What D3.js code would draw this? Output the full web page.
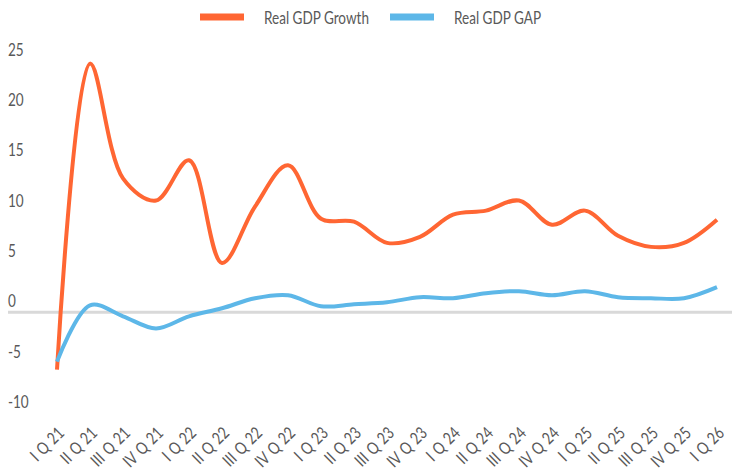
<!DOCTYPE html>
<html>
<head>
<meta charset="utf-8">
<script src="https://cdn.jsdelivr.net/npm/d3@7"></script>
<style>
  html, body { margin: 0; padding: 0; background: #fff; }
  svg { display: block; }
  text { font-family: Lato, "Open Sans", sans-serif; fill: #595959; }
</style>
</head>
<body>
<svg id="chart" width="732" height="470"></svg>
<script>
// Quarter labels
const quarters = [
  "I Q 21", "II Q 21", "III Q 21", "IV Q 21",
  "I Q 22", "II Q 22", "III Q 22", "IV Q 22",
  "I Q 23", "II Q 23", "III Q 23", "IV Q 23",
  "I Q 24", "II Q 24", "III Q 24", "IV Q 24",
  "I Q 25", "II Q 25", "III Q 25", "IV Q 25",
  "I Q 26"
];

// Real GDP growth, %
const gdpGrowth = [
  -5.7, 24.7, 13.3, 11.1, 15.1, 4.9, 10.5, 14.6,
  9.3, 9.0, 6.9, 7.5, 9.7, 10.1, 11.1, 8.7,
  10.1, 7.6, 6.5, 6.9, 9.2
];

// Real GDP gap, %
const gdpGap = [
  -4.9, 0.7, -0.4, -1.6, -0.4, 0.4, 1.4, 1.7,
  0.6, 0.8, 1.0, 1.5, 1.4, 1.9, 2.1, 1.7,
  2.1, 1.5, 1.4, 1.4, 2.5
];

// Y axis ticks
const yTicks = [25, 20, 15, 10, 5, 0, -5, -10];

const seriesNames = ["Real GDP Growth", "Real GDP GAP"];
const seriesColors = ["#FF6633", "#5DB7E8"];

const svg = d3.select("#chart");

const x = d3.scalePoint().domain(quarters).range([57, 717]);
const y = d3.scaleLinear().domain([-10, 25]).range([413, 60.6]);

// Narrow the chosen face horizontally so labels have a condensed look
const probe = svg.append("text").attr("font-size", 17).text(seriesNames[0]);
const narrow = Math.min(1, 105 / probe.node().getComputedTextLength());
probe.remove();

// Zero line
svg.append("line")
  .attr("x1", 8).attr("x2", 732)
  .attr("y1", y(0)).attr("y2", y(0))
  .attr("stroke", "#d9d9d9")
  .attr("stroke-width", 3);

// Y tick labels
svg.append("g").selectAll("text")
  .data(yTicks)
  .join("text")
  .attr("transform", d => `translate(8,${y(d) - 5}) scale(${narrow},1)`)
  .attr("font-size", 17)
  .text(d => d);

// X tick labels, rotated
svg.append("g").selectAll("text")
  .data(quarters)
  .join("text")
  .attr("transform", d => `translate(${x(d) + 4},${430}) rotate(-45) scale(${narrow},1)`)
  .attr("text-anchor", "end")
  .attr("dy", "0.35em")
  .attr("font-size", 17)
  .attr("word-spacing", 1.5)
  .text(d => d);

// Lines
const line = d3.line()
  .x((d, i) => x(quarters[i]))
  .y(d => y(d))
  .curve(d3.curveCatmullRom.alpha(0.5));

[gdpGrowth, gdpGap].forEach((vals, k) => {
  svg.append("path")
    .datum(vals)
    .attr("fill", "none")
    .attr("stroke", seriesColors[k])
    .attr("stroke-width", 4)
    .attr("stroke-linejoin", "round")
    .attr("d", line);
});

// Legend
const legendX = [200, 390];
const legend = svg.append("g");
seriesNames.forEach((name, k) => {
  legend.append("rect")
    .attr("x", legendX[k]).attr("y", 13.5)
    .attr("width", 44).attr("height", 7)
    .attr("fill", seriesColors[k]);
  legend.append("text")
    .attr("transform", `translate(${legendX[k] + 64},24) scale(${narrow},1)`)
    .attr("font-size", 17)
    .text(name);
});
</script>
</body>
</html>
